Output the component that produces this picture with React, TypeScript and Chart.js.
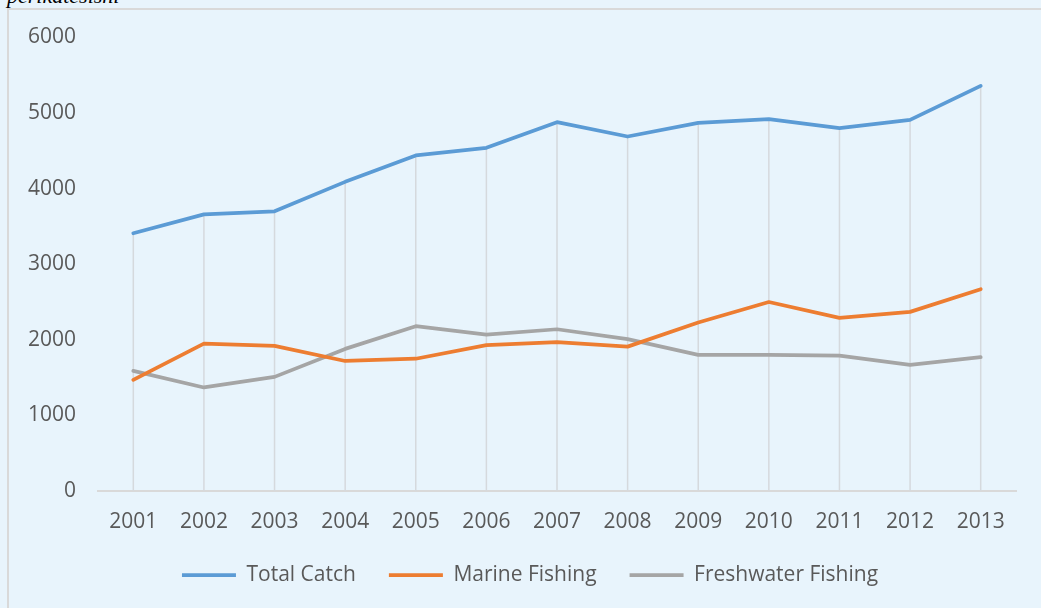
import React, { useEffect, useRef } from "react";
import { Chart, registerables } from "chart.js";

Chart.register(...registerables);

const years = ["2001", "2002", "2003", "2004", "2005", "2006", "2007", "2008", "2009", "2010", "2011", "2012", "2013"];
const totalCatch = [3410, 3660, 3700, 4090, 4440, 4540, 4880, 4690, 4870, 4920, 4800, 4910, 5360];
const marineFishing = [1470, 1950, 1920, 1720, 1750, 1930, 1970, 1910, 2230, 2500, 2290, 2370, 2670];
const freshwaterFishing = [1590, 1370, 1510, 1880, 2180, 2070, 2140, 2010, 1800, 1800, 1790, 1670, 1770];
const seriesNames = ["Total Catch", "Marine Fishing", "Freshwater Fishing"];
const seriesColors = ["#5B9BD5", "#ED7D31", "#A5A5A5"];
const yMin = 0;
const yMax = 6000;
const yStep = 1000;
const headerText = "perikatesisni";

const FONT = "'Open Sans', sans-serif";

const dropLines = {
  id: "dropLines",
  beforeDatasetsDraw(chart: any) {
    const { ctx } = chart;
    const x = chart.scales.x;
    const y = chart.scales.y;
    const n = chart.data.labels.length;
    ctx.save();
    ctx.strokeStyle = "#D5D9DD";
    ctx.lineWidth = 1.5;
    for (let i = 0; i < n; i++) {
      let max = -Infinity;
      chart.data.datasets.forEach((ds: any) => {
        max = Math.max(max, ds.data[i]);
      });
      const px = x.getPixelForValue(i);
      ctx.beginPath();
      ctx.moveTo(px, y.getPixelForValue(max));
      ctx.lineTo(px, y.getPixelForValue(0));
      ctx.stroke();
    }
    ctx.restore();
  },
};

const legendShift = {
  id: "legendShift",
  afterLayout(chart: any) {
    if (chart.legend) {
      chart.legend.left += 13;
      chart.legend.right += 13;
      chart.legend.top -= 7.5;
      chart.legend.bottom -= 7.5;
    }
  },
};

export default function App() {
  const ref = useRef<HTMLCanvasElement | null>(null);

  useEffect(() => {
    if (!ref.current) return;
    const data = [totalCatch, marineFishing, freshwaterFishing];
    const chart = new Chart(ref.current, {
      type: "line",
      data: {
        labels: years,
        datasets: data.map((d, i) => ({
          label: seriesNames[i],
          data: d,
          borderColor: seriesColors[i],
          backgroundColor: seriesColors[i],
          borderWidth: 3.75,
          borderCapStyle: "round",
          borderJoinStyle: "round",
          pointRadius: 0,
          tension: 0,
          fill: false,
        })),
      },
      options: {
        animation: false,
        responsive: false,
        devicePixelRatio: 1,
        layout: { padding: { left: 18, right: 25, top: 37.5, bottom: 5 } },
        scales: {
          x: {
            offset: true,
            grid: { display: false, drawTicks: false },
            border: { display: true, color: "#D9D9D9", width: 2 },
            ticks: { color: "#595959", font: { family: FONT, size: 21 }, padding: 18, maxRotation: 0 },
            afterFit: (s: any) => {
              s.height = 48;
            },
          },
          y: {
            min: yMin,
            max: yMax,
            grid: { display: false, drawTicks: false },
            border: { display: false },
            ticks: {
              stepSize: yStep,
              color: "#595959",
              font: { family: FONT, size: 21 },
              padding: 22,
              callback: (v: any) => String(v),
            },
            afterFit: (s: any) => {
              s.width = 80;
            },
          },
        },
        plugins: {
          tooltip: { enabled: false },
          legend: {
            position: "bottom",
            labels: {
              usePointStyle: true,
              pointStyle: "line",
              pointStyleWidth: 54,
              padding: 33,
              color: "#595959",
              font: { family: FONT, size: 21 },
            },
          },
        },
      },
      plugins: [dropLines, legendShift],
    } as any);
    return () => chart.destroy();
  }, []);

  return (
    <div
      style={{
        position: "fixed",
        left: 0,
        top: 0,
        width: 1041,
        height: 608,
        overflow: "hidden",
        background: "#E8F4FC",
      }}
    >
      <div
        style={{
          position: "absolute",
          left: 7,
          top: -15.5,
          fontFamily: "'Liberation Serif', 'Times New Roman', serif",
          fontStyle: "italic",
          fontSize: 22,
          lineHeight: "22px",
          color: "#000",
          whiteSpace: "nowrap",
        }}
      >
        {headerText}
      </div>
      <div
        style={{
          position: "absolute",
          left: 7,
          top: 8,
          width: 2000,
          height: 2000,
          borderLeft: "2px solid #D9D9D9",
          borderTop: "2px solid #D9D9D9",
        }}
      />
      <canvas
        ref={ref}
        width={1041}
        height={608}
        style={{ position: "absolute", left: 0, top: 0, width: 1041, height: 608, display: "block" }}
      />
    </div>
  );
}
